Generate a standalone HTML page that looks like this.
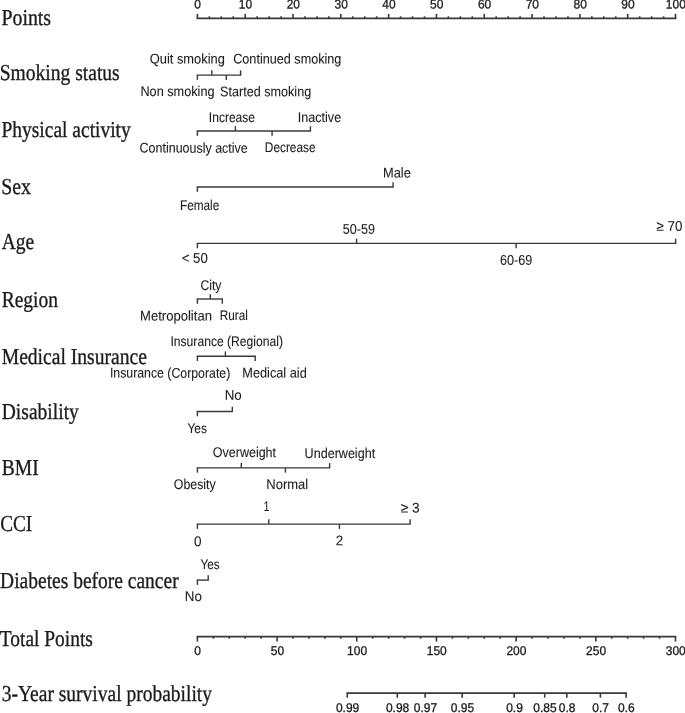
<!DOCTYPE html>
<html lang="en">
<head>
<meta charset="utf-8">
<title>Nomogram</title>
<style>
html,body{margin:0;padding:0;background:#fff;}
body{width:685px;height:713px;overflow:hidden;}
svg{display:block;}
text{fill:#1c1c1c;}
line{stroke:#383838;stroke-width:1.4;fill:none;}
.t{font-family:"Liberation Serif","Times New Roman",serif;font-size:20px;stroke:#1c1c1c;stroke-width:0.3px;}
.c{font-family:"Liberation Sans",Arial,sans-serif;font-size:12.5px;stroke:#1c1c1c;stroke-width:0.08px;}
.n{font-family:"Liberation Sans",Arial,sans-serif;font-size:12px;stroke:#1c1c1c;stroke-width:0.3px;}
.r line{stroke-width:1.6;}
</style>
</head>
<body>
<svg width="685" height="713" viewBox="0 0 685 713">
<text class="t" transform="translate(1.50 24.9) rotate(0.03) scale(0.9918 1.14)">Points</text>
<text class="t" transform="translate(-0.37 79.8) rotate(0.03) scale(0.9785 1.14)">Smoking status</text>
<text class="t" transform="translate(1.41 136.6) rotate(0.03) scale(0.9750 1.14)">Physical activity</text>
<text class="t" transform="translate(1.21 193.8) rotate(0.03) scale(0.9895 1.14)">Sex</text>
<text class="t" transform="translate(1.70 248.9) rotate(0.03) scale(0.9753 1.14)">Age</text>
<text class="t" transform="translate(1.71 307.0) rotate(0.03) scale(0.9754 1.14)">Region</text>
<text class="t" transform="translate(1.71 363.7) rotate(0.03) scale(0.9796 1.14)">Medical Insurance</text>
<text class="t" transform="translate(1.71 419.1) rotate(0.03) scale(0.9783 1.14)">Disability</text>
<text class="t" transform="translate(1.71 474.6) rotate(0.03) scale(0.9781 1.14)">BMI</text>
<text class="t" transform="translate(0.13 530.8) rotate(0.03) scale(0.9623 1.14)">CCI</text>
<text class="t" transform="translate(0.12 587.8) rotate(0.03) scale(0.9748 1.14)">Diabetes before cancer</text>
<text class="t" transform="translate(-0.19 645.7) rotate(0.03) scale(0.9715 1.14)">Total Points</text>
<text class="t" transform="translate(1.72 701.1) rotate(0.03) scale(0.9753 1.14)">3-Year survival probability</text>
<g class="r">
<line x1="196.6" y1="18.4" x2="676.3" y2="18.4"/>
<line x1="197.4" y1="18.4" x2="197.4" y2="13.9"/>
<line x1="245.21" y1="18.4" x2="245.21" y2="13.9"/>
<line x1="293.02" y1="18.4" x2="293.02" y2="13.9"/>
<line x1="340.83" y1="18.4" x2="340.83" y2="13.9"/>
<line x1="388.64" y1="18.4" x2="388.64" y2="13.9"/>
<line x1="436.45" y1="18.4" x2="436.45" y2="13.9"/>
<line x1="484.26" y1="18.4" x2="484.26" y2="13.9"/>
<line x1="532.07" y1="18.4" x2="532.07" y2="13.9"/>
<line x1="579.88" y1="18.4" x2="579.88" y2="13.9"/>
<line x1="627.69" y1="18.4" x2="627.69" y2="13.9"/>
<line x1="675.5" y1="18.4" x2="675.5" y2="13.9"/>
<line x1="209.35" y1="18.4" x2="209.35" y2="16.3"/>
<line x1="221.31" y1="18.4" x2="221.31" y2="16.3"/>
<line x1="233.26" y1="18.4" x2="233.26" y2="16.3"/>
<line x1="257.16" y1="18.4" x2="257.16" y2="16.3"/>
<line x1="269.12" y1="18.4" x2="269.12" y2="16.3"/>
<line x1="281.07" y1="18.4" x2="281.07" y2="16.3"/>
<line x1="304.97" y1="18.4" x2="304.97" y2="16.3"/>
<line x1="316.93" y1="18.4" x2="316.93" y2="16.3"/>
<line x1="328.88" y1="18.4" x2="328.88" y2="16.3"/>
<line x1="352.78" y1="18.4" x2="352.78" y2="16.3"/>
<line x1="364.74" y1="18.4" x2="364.74" y2="16.3"/>
<line x1="376.69" y1="18.4" x2="376.69" y2="16.3"/>
<line x1="400.59" y1="18.4" x2="400.59" y2="16.3"/>
<line x1="412.55" y1="18.4" x2="412.55" y2="16.3"/>
<line x1="424.5" y1="18.4" x2="424.5" y2="16.3"/>
<line x1="448.4" y1="18.4" x2="448.4" y2="16.3"/>
<line x1="460.36" y1="18.4" x2="460.36" y2="16.3"/>
<line x1="472.31" y1="18.4" x2="472.31" y2="16.3"/>
<line x1="496.21" y1="18.4" x2="496.21" y2="16.3"/>
<line x1="508.16" y1="18.4" x2="508.16" y2="16.3"/>
<line x1="520.12" y1="18.4" x2="520.12" y2="16.3"/>
<line x1="544.02" y1="18.4" x2="544.02" y2="16.3"/>
<line x1="555.98" y1="18.4" x2="555.98" y2="16.3"/>
<line x1="567.93" y1="18.4" x2="567.93" y2="16.3"/>
<line x1="591.83" y1="18.4" x2="591.83" y2="16.3"/>
<line x1="603.78" y1="18.4" x2="603.78" y2="16.3"/>
<line x1="615.74" y1="18.4" x2="615.74" y2="16.3"/>
<line x1="639.64" y1="18.4" x2="639.64" y2="16.3"/>
<line x1="651.6" y1="18.4" x2="651.6" y2="16.3"/>
<line x1="663.55" y1="18.4" x2="663.55" y2="16.3"/>
</g>
<text class="n" transform="translate(197.7 8.6) rotate(0.03) scale(1 1.06)" text-anchor="middle">0</text>
<text class="n" transform="translate(245.51 8.6) rotate(0.03) scale(1 1.06)" text-anchor="middle">10</text>
<text class="n" transform="translate(293.32 8.6) rotate(0.03) scale(1 1.06)" text-anchor="middle">20</text>
<text class="n" transform="translate(341.13 8.6) rotate(0.03) scale(1 1.06)" text-anchor="middle">30</text>
<text class="n" transform="translate(388.94 8.6) rotate(0.03) scale(1 1.06)" text-anchor="middle">40</text>
<text class="n" transform="translate(436.75 8.6) rotate(0.03) scale(1 1.06)" text-anchor="middle">50</text>
<text class="n" transform="translate(484.56 8.6) rotate(0.03) scale(1 1.06)" text-anchor="middle">60</text>
<text class="n" transform="translate(532.37 8.6) rotate(0.03) scale(1 1.06)" text-anchor="middle">70</text>
<text class="n" transform="translate(580.18 8.6) rotate(0.03) scale(1 1.06)" text-anchor="middle">80</text>
<text class="n" transform="translate(627.99 8.6) rotate(0.03) scale(1 1.06)" text-anchor="middle">90</text>
<text class="n" transform="translate(675.8 8.6) rotate(0.03) scale(1 1.06)" text-anchor="middle">100</text>
<g class="r">
<line x1="196.6" y1="636.6" x2="676.28" y2="636.6"/>
<line x1="197.4" y1="636.6" x2="197.4" y2="641.6"/>
<line x1="277.08" y1="636.6" x2="277.08" y2="641.6"/>
<line x1="356.76" y1="636.6" x2="356.76" y2="641.6"/>
<line x1="436.44" y1="636.6" x2="436.44" y2="641.6"/>
<line x1="516.12" y1="636.6" x2="516.12" y2="641.6"/>
<line x1="595.8" y1="636.6" x2="595.8" y2="641.6"/>
<line x1="675.48" y1="636.6" x2="675.48" y2="641.6"/>
<line x1="213.34" y1="636.6" x2="213.34" y2="638.7"/>
<line x1="229.27" y1="636.6" x2="229.27" y2="638.7"/>
<line x1="245.21" y1="636.6" x2="245.21" y2="638.7"/>
<line x1="261.14" y1="636.6" x2="261.14" y2="638.7"/>
<line x1="293.02" y1="636.6" x2="293.02" y2="638.7"/>
<line x1="308.95" y1="636.6" x2="308.95" y2="638.7"/>
<line x1="324.89" y1="636.6" x2="324.89" y2="638.7"/>
<line x1="340.82" y1="636.6" x2="340.82" y2="638.7"/>
<line x1="372.7" y1="636.6" x2="372.7" y2="638.7"/>
<line x1="388.63" y1="636.6" x2="388.63" y2="638.7"/>
<line x1="404.57" y1="636.6" x2="404.57" y2="638.7"/>
<line x1="420.5" y1="636.6" x2="420.5" y2="638.7"/>
<line x1="452.38" y1="636.6" x2="452.38" y2="638.7"/>
<line x1="468.31" y1="636.6" x2="468.31" y2="638.7"/>
<line x1="484.25" y1="636.6" x2="484.25" y2="638.7"/>
<line x1="500.18" y1="636.6" x2="500.18" y2="638.7"/>
<line x1="532.06" y1="636.6" x2="532.06" y2="638.7"/>
<line x1="547.99" y1="636.6" x2="547.99" y2="638.7"/>
<line x1="563.93" y1="636.6" x2="563.93" y2="638.7"/>
<line x1="579.86" y1="636.6" x2="579.86" y2="638.7"/>
<line x1="611.74" y1="636.6" x2="611.74" y2="638.7"/>
<line x1="627.67" y1="636.6" x2="627.67" y2="638.7"/>
<line x1="643.61" y1="636.6" x2="643.61" y2="638.7"/>
<line x1="659.54" y1="636.6" x2="659.54" y2="638.7"/>
</g>
<text class="n" transform="translate(197.7 655) rotate(0.03) scale(1 1.06)" text-anchor="middle">0</text>
<text class="n" transform="translate(277.38 655) rotate(0.03) scale(1 1.06)" text-anchor="middle">50</text>
<text class="n" transform="translate(357.06 655) rotate(0.03) scale(1 1.06)" text-anchor="middle">100</text>
<text class="n" transform="translate(436.74 655) rotate(0.03) scale(1 1.06)" text-anchor="middle">150</text>
<text class="n" transform="translate(516.42 655) rotate(0.03) scale(1 1.06)" text-anchor="middle">200</text>
<text class="n" transform="translate(596.1 655) rotate(0.03) scale(1 1.06)" text-anchor="middle">250</text>
<text class="n" transform="translate(675.78 655) rotate(0.03) scale(1 1.06)" text-anchor="middle">300</text>
<g class="r">
<line x1="346.5" y1="693.1" x2="626.9" y2="693.1"/>
<line x1="347.3" y1="693.1" x2="347.3" y2="697.7"/>
<line x1="397.3" y1="693.1" x2="397.3" y2="697.7"/>
<line x1="425.1" y1="693.1" x2="425.1" y2="697.7"/>
<line x1="462.2" y1="693.1" x2="462.2" y2="697.7"/>
<line x1="514.2" y1="693.1" x2="514.2" y2="697.7"/>
<line x1="544.7" y1="693.1" x2="544.7" y2="697.7"/>
<line x1="566.8" y1="693.1" x2="566.8" y2="697.7"/>
<line x1="600.4" y1="693.1" x2="600.4" y2="697.7"/>
<line x1="626.1" y1="693.1" x2="626.1" y2="697.7"/>
</g>
<text class="n" transform="translate(347.6 712.1) rotate(0.03) scale(1 1.06)" text-anchor="middle">0.99</text>
<text class="n" transform="translate(397.6 712.1) rotate(0.03) scale(1 1.06)" text-anchor="middle">0.98</text>
<text class="n" transform="translate(425.4 712.1) rotate(0.03) scale(1 1.06)" text-anchor="middle">0.97</text>
<text class="n" transform="translate(462.5 712.1) rotate(0.03) scale(1 1.06)" text-anchor="middle">0.95</text>
<text class="n" transform="translate(514.5 712.1) rotate(0.03) scale(1 1.06)" text-anchor="middle">0.9</text>
<text class="n" transform="translate(545.0 712.1) rotate(0.03) scale(1 1.06)" text-anchor="middle">0.85</text>
<text class="n" transform="translate(567.1 712.1) rotate(0.03) scale(1 1.06)" text-anchor="middle">0.8</text>
<text class="n" transform="translate(600.7 712.1) rotate(0.03) scale(1 1.06)" text-anchor="middle">0.7</text>
<text class="n" transform="translate(626.4 712.1) rotate(0.03) scale(1 1.06)" text-anchor="middle">0.6</text>
<line x1="196.7" y1="75.1" x2="241.3" y2="75.1"/>
<line x1="197.4" y1="75.1" x2="197.4" y2="79.9"/>
<line x1="211.8" y1="75.1" x2="211.8" y2="70.3"/>
<line x1="226.3" y1="75.1" x2="226.3" y2="79.9"/>
<line x1="240.6" y1="75.1" x2="240.6" y2="70.3"/>
<text class="c" transform="translate(149.78 63.4) rotate(0.03) scale(1.0294 1.12)">Quit smoking</text>
<text class="c" transform="translate(233.19 63.4) rotate(0.03) scale(1.0123 1.12)">Continued smoking</text>
<text class="c" transform="translate(140.38 96.0) rotate(0.03) scale(1.0183 1.12)">Non smoking</text>
<text class="c" transform="translate(220.09 96.3) rotate(0.03) scale(1.0090 1.12)">Started smoking</text>
<line x1="196.7" y1="131" x2="311.1" y2="131"/>
<line x1="197.4" y1="131" x2="197.4" y2="135.8"/>
<line x1="235.4" y1="131" x2="235.4" y2="126.2"/>
<line x1="272.1" y1="131" x2="272.1" y2="135.8"/>
<line x1="310.4" y1="131" x2="310.4" y2="126.2"/>
<text class="c" transform="translate(208.84 122.3) rotate(0.03) scale(0.9654 1.12)">Increase</text>
<text class="c" transform="translate(297.79 122.0) rotate(0.03) scale(1.0073 1.12)">Inactive</text>
<text class="c" transform="translate(139.60 152.6) rotate(0.03) scale(0.9991 1.12)">Continuously active</text>
<text class="c" transform="translate(264.85 152.0) rotate(0.03) scale(0.9480 1.12)">Decrease</text>
<line x1="196.7" y1="187" x2="393.8" y2="187"/>
<line x1="197.4" y1="187" x2="197.4" y2="191.8"/>
<line x1="393.1" y1="187" x2="393.1" y2="182.2"/>
<text class="c" transform="translate(382.97 177.4) rotate(0.03) scale(1.0275 1.12)">Male</text>
<text class="c" transform="translate(179.95 210.0) rotate(0.03) scale(0.9451 1.12)">Female</text>
<line x1="196.7" y1="243.4" x2="676.3" y2="243.4"/>
<line x1="197.4" y1="243.4" x2="197.4" y2="248.2"/>
<line x1="356.6" y1="243.4" x2="356.6" y2="238.6"/>
<line x1="516.1" y1="243.4" x2="516.1" y2="248.2"/>
<line x1="675.6" y1="243.4" x2="675.6" y2="238.6"/>
<text class="c" transform="translate(342.80 233.8) rotate(0.03) scale(1.0097 1.12)">50-59</text>
<text class="c" transform="translate(656.57 230.8) rotate(0.03) scale(1.0644 1.12)">≥ 70</text>
<text class="c" transform="translate(181.66 262.8) rotate(0.03) scale(1.0593 1.12)">&lt; 50</text>
<text class="c" transform="translate(499.99 264.8) rotate(0.03) scale(1.0130 1.12)">60-69</text>
<line x1="196.7" y1="299" x2="223.0" y2="299"/>
<line x1="197.4" y1="299" x2="197.4" y2="303.8"/>
<line x1="210.3" y1="299" x2="210.3" y2="294.2"/>
<line x1="222.3" y1="299" x2="222.3" y2="303.8"/>
<text class="c" transform="translate(200.41 290.2) rotate(0.03) scale(0.9761 1.12)">City</text>
<text class="c" transform="translate(140.05 320.4) rotate(0.03) scale(1.0463 1.12)">Metropolitan</text>
<text class="c" transform="translate(219.86 320.4) rotate(0.03) scale(0.9393 1.12)">Rural</text>
<line x1="196.7" y1="356.2" x2="255.9" y2="356.2"/>
<line x1="197.4" y1="356.2" x2="197.4" y2="361.0"/>
<line x1="225.4" y1="356.2" x2="225.4" y2="351.4"/>
<line x1="255.2" y1="356.2" x2="255.2" y2="361.0"/>
<text class="c" transform="translate(170.43 346.1) rotate(0.03) scale(0.9711 1.12)">Insurance (Regional)</text>
<text class="c" transform="translate(109.92 377.6) rotate(0.03) scale(0.9850 1.12)">Insurance (Corporate)</text>
<text class="c" transform="translate(242.28 377.6) rotate(0.03) scale(1.0212 1.12)">Medical aid</text>
<line x1="196.7" y1="411.5" x2="233.0" y2="411.5"/>
<line x1="197.4" y1="411.5" x2="197.4" y2="416.3"/>
<line x1="232.3" y1="411.5" x2="232.3" y2="406.7"/>
<text class="c" transform="translate(224.63 399.7) rotate(0.03) scale(1.0694 1.12)">No</text>
<text class="c" transform="translate(187.41 433.3) rotate(0.03) scale(0.9541 1.12)">Yes</text>
<line x1="196.7" y1="467.9" x2="330.3" y2="467.9"/>
<line x1="197.4" y1="467.9" x2="197.4" y2="472.7"/>
<line x1="241.3" y1="467.9" x2="241.3" y2="463.1"/>
<line x1="285.4" y1="467.9" x2="285.4" y2="472.7"/>
<line x1="329.6" y1="467.9" x2="329.6" y2="463.1"/>
<text class="c" transform="translate(212.80 457.1) rotate(0.03) scale(1.0016 1.12)">Overweight</text>
<text class="c" transform="translate(304.59 457.9) rotate(0.03) scale(1.0058 1.12)">Underweight</text>
<text class="c" transform="translate(173.81 489.0) rotate(0.03) scale(0.9904 1.12)">Obesity</text>
<text class="c" transform="translate(266.36 489.0) rotate(0.03) scale(1.0391 1.12)">Normal</text>
<line x1="196.7" y1="524.1" x2="410.8" y2="524.1"/>
<line x1="197.4" y1="524.1" x2="197.4" y2="528.9"/>
<line x1="268.8" y1="524.1" x2="268.8" y2="519.3"/>
<line x1="339.4" y1="524.1" x2="339.4" y2="528.9"/>
<line x1="410.1" y1="524.1" x2="410.1" y2="519.3"/>
<text class="c" transform="translate(263.53 511.3) rotate(0.03) scale(0.8679 1.12)">1</text>
<text class="c" transform="translate(400.66 512.5) rotate(0.03) scale(1.0982 1.12)">≥ 3</text>
<text class="c" transform="translate(193.96 546.0) rotate(0.03) scale(1.0833 1.12)">0</text>
<text class="c" transform="translate(335.66 545.2) rotate(0.03) scale(1.0702 1.12)">2</text>
<line x1="196.7" y1="580.1" x2="208.9" y2="580.1"/>
<line x1="197.4" y1="580.1" x2="197.4" y2="584.9"/>
<line x1="208.2" y1="580.1" x2="208.2" y2="575.3"/>
<text class="c" transform="translate(200.52 569.4) rotate(0.03) scale(0.9388 1.12)">Yes</text>
<text class="c" transform="translate(184.83 600.9) rotate(0.03) scale(1.0694 1.12)">No</text>
</svg>
</body>
</html>
